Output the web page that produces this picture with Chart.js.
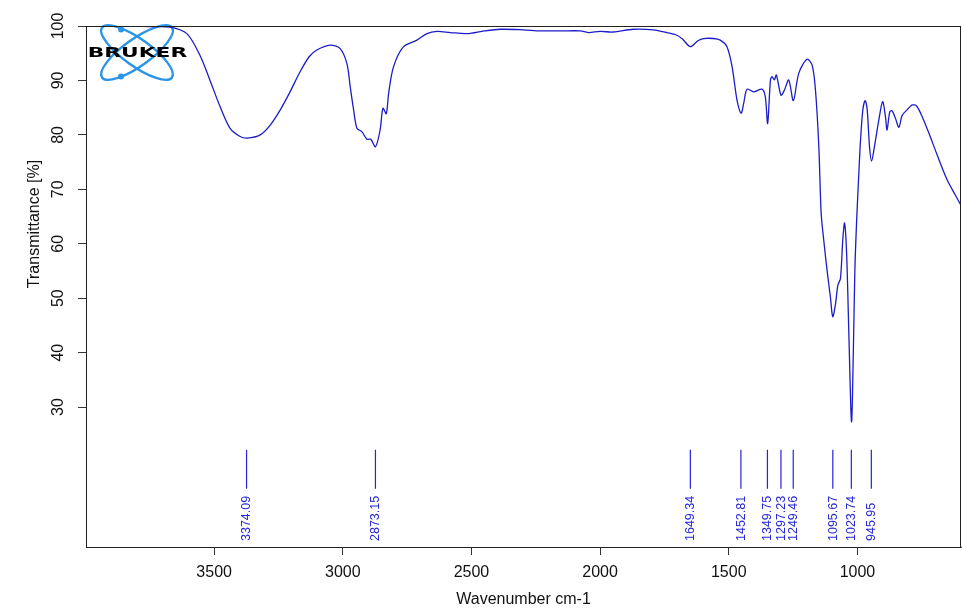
<!DOCTYPE html>
<html>
<head>
<meta charset="utf-8">
<title>IR spectrum</title>
<script src="https://cdn.jsdelivr.net/npm/chart.js@4.4.1/dist/chart.umd.min.js"></script>
<style>
  html, body { margin: 0; padding: 0; background: #fff; }
  #wrap { width: 962px; height: 616px; }
</style>
</head>
<body>
<div id="wrap"><canvas id="irChart" width="962" height="616"></canvas></div>
<script>
// spectrum (cm-1, % transmittance)
var wavenumber = [3998, 3900, 3800, 3749, 3671, 3606, 3554, 3516, 3477, 3438, 3399, 3372, 3321, 3282, 3243, 3205, 3166, 3130, 3101, 3049, 3011,
  2984, 2971, 2958, 2945, 2926, 2906, 2891, 2873, 2855, 2844, 2831, 2822, 2803, 2764, 2712, 2673, 2634, 2582, 2517, 2450,
  2388, 2300, 2232, 2150, 2077, 2046, 2000, 1949, 1871, 1793, 1740, 1701, 1680, 1649, 1620, 1598, 1560, 1533, 1507, 1487,
  1468, 1452, 1442, 1429, 1403, 1371, 1358, 1349, 1338, 1332, 1323, 1315, 1297, 1284, 1267, 1249, 1228, 1196, 1176, 1163,
  1150, 1141, 1131, 1118, 1105, 1096, 1085, 1076, 1066, 1057, 1050, 1042, 1033, 1023, 1016, 1010, 1003, 994, 988, 979,
  970, 962, 953, 945, 934, 917, 902, 891, 885, 874, 865, 852, 839, 826, 807, 787, 770, 748, 722, 690,
  651, 619, 598];
var transmittance = [100, 100, 100, 99.9, 99.8, 98.6, 94.5, 90.0, 85.2, 81.2, 79.7, 79.4, 80.0, 81.8, 84.6, 87.9, 91.6, 94.4, 95.6, 96.5, 95.9,
  93.1, 88.8, 84.6, 81.2, 80.6, 79.2, 79.2, 77.8, 80.9, 84.9, 83.9, 87.6, 92.5, 96.2, 97.4, 98.6, 99.0, 98.8, 98.6, 99.1,
  99.4, 99.3, 99.1, 99.1, 99.1, 98.8, 99.0, 98.9, 99.4, 99.3, 98.8, 98.3, 97.6, 96.2, 97.3, 97.7, 97.7, 97.4, 96.2, 92.5,
  86.4, 84.0, 85.8, 88.4, 87.9, 88.4, 87.0, 82.1, 90.1, 90.7, 90.1, 91.0, 87.3, 88.2, 90.1, 86.3, 91.3, 93.9, 92.8, 88.2,
  77.8, 65.6, 60.7, 55.1, 50.2, 46.6, 49.0, 52.4, 53.6, 60.7, 63.8, 58.2, 42.9, 27.3, 39.9, 55.1, 64.3, 73.5, 79.0, 84.6,
  86.3, 84.6, 77.8, 75.2, 77.8, 82.7, 86.1, 83.3, 80.9, 84.3, 84.4, 83.0, 81.4, 83.6, 84.6, 85.5, 85.3, 83.3, 80.3, 76.3,
  71.7, 68.9, 67.1];
var peakPositions = [3374.09, 2873.15, 1649.34, 1452.81, 1349.75, 1297.23, 1249.46, 1095.67, 1023.74, 945.95];
var xTickValues = [3500, 3000, 2500, 2000, 1500, 1000];
var yTickValues = [30, 40, 50, 60, 70, 80, 90, 100];

var lineBlue = '#1c1cc8';
var markBlue = '#2626d6';
var markTop = 22.15, markBottom = 15.0, labelBase = 5.4;
var fontFam = '"Liberation Sans", Arial, Helvetica, sans-serif';

var spectrum = wavenumber.map(function (w, i) { return { x: w, y: transmittance[i] }; });
var peakSegments = [];
peakPositions.forEach(function (p) {
  peakSegments.push({ x: p, y: markTop }, { x: p, y: markBottom }, { x: p, y: null });
});

function drawLogo(ctx) {
  ctx.save();
  ctx.strokeStyle = '#2b94e6';
  ctx.fillStyle = '#2b94e6';
  ctx.lineWidth = 2.4;
  ctx.beginPath();
  ctx.ellipse(137, 52.5, 43, 13.5, 0.62, 0, Math.PI * 2);
  ctx.stroke();
  ctx.beginPath();
  ctx.ellipse(137, 52.5, 43, 13.5, -0.62, 0, Math.PI * 2);
  ctx.stroke();
  ctx.beginPath(); ctx.arc(121, 29.5, 3, 0, Math.PI * 2); ctx.fill();
  ctx.beginPath(); ctx.arc(121, 76.5, 3, 0, Math.PI * 2); ctx.fill();
  // wordmark
  ctx.fillStyle = '#000';
  ctx.font = 'bold 14.5px "DejaVu Sans", sans-serif';
  ctx.textAlign = 'center';
  ctx.textBaseline = 'middle';
  ctx.translate(137.5, 53.5);
  ctx.scale(1.5, 1);
  ctx.fillText('BRUKER', 0, 0);
  ctx.restore();
}

var extras = {
  id: 'extras',
  beforeDatasetsDraw: function (chart) {
    drawLogo(chart.ctx);
  },
  afterDatasetsDraw: function (chart) {
    var ctx = chart.ctx, xs = chart.scales.x, ys = chart.scales.y;
    var yb = ys.getPixelForValue(labelBase);
    ctx.save();
    ctx.fillStyle = markBlue;
    ctx.font = '12.5px ' + fontFam;
    ctx.textAlign = 'left';
    ctx.textBaseline = 'middle';
    peakPositions.forEach(function (p) {
      var px = xs.getPixelForValue(p);
      ctx.save();
      ctx.translate(px + 0.5, yb);
      ctx.rotate(-Math.PI / 2);
      ctx.fillText(p.toFixed(2), 0, 0);
      ctx.restore();
    });
    ctx.restore();
  },
  afterDraw: function (chart) {
    var ctx = chart.ctx, a = chart.chartArea;
    ctx.save();
    ctx.strokeStyle = '#222';
    ctx.lineWidth = 1;
    ctx.strokeRect(a.left + 0.5, a.top + 0.5, a.right - a.left - 1, a.bottom - a.top);
    // y axis title
    ctx.fillStyle = '#111';
    ctx.font = '16px ' + fontFam;
    ctx.textAlign = 'center';
    ctx.textBaseline = 'middle';
    ctx.translate(35, 224);
    ctx.rotate(-Math.PI / 2);
    ctx.fillText('Transmittance [%]', 0, 0);
    ctx.restore();
  }
};

var ctx = document.getElementById('irChart').getContext('2d');
var irChart = new Chart(ctx, {
  type: 'line',
  data: {
    datasets: [{
      data: spectrum,
      borderColor: lineBlue,
      borderWidth: 1.3,
      pointRadius: 0,
      fill: false,
      tension: 0.3
    }, {
      data: peakSegments,
      borderColor: markBlue,
      borderWidth: 1.2,
      pointRadius: 0,
      fill: false,
      spanGaps: false,
      tension: 0
    }]
  },
  options: {
    responsive: false,
    animation: false,
    layout: { padding: { top: 26, right: 1, left: 0, bottom: 0 } },
    plugins: { legend: { display: false }, tooltip: { enabled: false } },
    scales: {
      x: {
        type: 'linear',
        reverse: true,
        min: 597.5,
        max: 3998,
        afterBuildTicks: function (s) {
          s.ticks = xTickValues.map(function (v) { return { value: v }; });
        },
        afterFit: function (s) { s.height = 69; },
        grid: { drawOnChartArea: false, tickLength: 8, tickColor: '#333' },
        border: { color: '#222' },
        ticks: {
          color: '#111', padding: 8, maxRotation: 0,
          font: { family: fontFam, size: 16 },
          callback: function (v) { return String(v); }
        },
        title: {
          display: true, text: 'Wavenumber cm-1', color: '#111',
          font: { family: fontFam, size: 16 }, padding: { top: 0, bottom: 7 }
        }
      },
      y: {
        type: 'linear',
        min: 4.3,
        max: 100,
        afterBuildTicks: function (s) {
          s.ticks = yTickValues.map(function (v) { return { value: v }; });
        },
        afterFit: function (s) { s.width = 86; },
        grid: { drawOnChartArea: false, tickLength: 8, tickColor: '#333' },
        border: { color: '#222' },
        ticks: {
          color: '#111', padding: 6, minRotation: 90, maxRotation: 90, crossAlign: 'center',
          font: { family: fontFam, size: 16 },
          callback: function (v) { return String(v); }
        }
      }
    }
  },
  plugins: [extras]
});
</script>
</body>
</html>
